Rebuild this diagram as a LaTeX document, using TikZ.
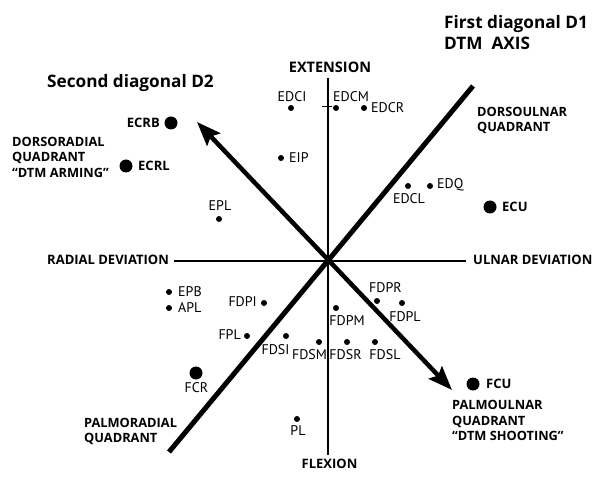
\documentclass[tikz,border=0pt]{standalone}
\usepackage{fontspec}
\setmainfont{Open Sans}
\newfontfamily\lblfont{PT Sans}
\usetikzlibrary{arrows.meta}
\begin{document}
\begin{tikzpicture}[x=1pt,y=-1pt,
 dot/.style={circle,fill=black,inner sep=0pt,minimum size=6pt},
 bigdot/.style={circle,fill=black,inner sep=0pt,minimum size=13pt},
 lbl/.style={inner sep=0pt,font=\lblfont\fontsize{14}{16}\selectfont},
 blbl/.style={inner sep=0pt,font=\fontsize{13}{15}\selectfont\bfseries},
 ttl/.style={inner sep=0pt,align=left,font=\fontsize{17.2}{21}\selectfont\bfseries},
 quad/.style={inner sep=0pt,align=left,font=\fontsize{12.8}{15.5}\selectfont\bfseries},
 axisline/.style={line width=1.5pt},
 diag/.style={line width=5pt}]
\useasboundingbox[fill=white] (0,0) rectangle (600,481);
% axes
\coordinate (ax-l) at (174,261);
\coordinate (ax-r) at (466,261);
\coordinate (ax-t) at (328,78);
\coordinate (ax-b) at (328,455);
\draw[axisline] (ax-l) -- (ax-r);
\draw[axisline] (ax-t) -- (ax-b);
\coordinate (tick-l) at (322,106);
\coordinate (tick-r) at (332,106);
\draw[line width=0.8pt] (tick-l) -- (tick-r);
% diagonals
\coordinate (d1a) at (169,452);
\coordinate (d1b) at (473,86);
\draw[diag] (d1a) -- (d1b);
\coordinate (d2a) at (452,390);
\coordinate (d2b) at (197,122);
\draw[line width=4.5pt,{Stealth[length=24pt,width=18pt,inset=4pt]}-{Stealth[length=24pt,width=18pt,inset=4pt]}] (d2a) -- (d2b);
% axis labels
\node[blbl,anchor=center,font=\fontsize{14.5}{15}\selectfont\bfseries] (ext) at (330,67) {EXTENSION};
\node[blbl,anchor=center] (flex) at (329.5,464) {FLEXION};
\node[blbl,anchor=west] (rad) at (47,260) {RADIAL DEVIATION};
\node[blbl,anchor=west] (uln) at (473,260) {ULNAR DEVIATION};
% titles
\node[ttl,anchor=west] (t2) at (47,83) {Second diagonal D2};
\node[ttl,anchor=west] (t1) at (444,32.5) {First diagonal D1\\DTM\ \ AXIS};
% quadrants
\node[quad,anchor=west] (qdr) at (12,157) {DORSORADIAL\\QUADRANT\\“DTM ARMING”};
\node[quad,anchor=west] (qdu) at (477,120.5) {DORSOULNAR\\QUADRANT};
\node[quad,anchor=west] (qpr) at (84,431.5) {PALMORADIAL\\QUADRANT};
\node[quad,anchor=west] (qpu) at (452,420.5) {PALMOULNAR\\QUADRANT\\“DTM SHOOTING”};
% dorsal muscles
\node[dot] (edci) at (291,108) {};
\node[lbl] (edci-l) at (292,97) {EDCI};
\node[dot] (edcm) at (336,108) {};
\node[lbl,anchor=west] (edcm-l) at (333,97) {EDCM};
\node[dot] (edcr) at (364,108) {};
\node[lbl,anchor=west] (edcr-l) at (371,108) {EDCR};
\node[dot] (eip) at (281,158) {};
\node[lbl,anchor=west] (eip-l) at (289,158) {EIP};
\node[dot] (edcl) at (408,186) {};
\node[lbl] (edcl-l) at (409,199) {EDCL};
\node[dot] (edq) at (430,186) {};
\node[lbl,anchor=west] (edq-l) at (437,185) {EDQ};
\node[bigdot] (ecu) at (490,207) {};
\node[blbl,anchor=west] (ecu-l) at (502,207) {ECU};
\node[bigdot] (ecrb) at (171,123) {};
\node[blbl,anchor=east] (ecrb-l) at (160,123) {ECRB};
\node[bigdot] (ecrl) at (126,166) {};
\node[blbl,anchor=west] (ecrl-l) at (138,166) {ECRL};
\node[dot] (epl) at (219,219) {};
\node[lbl] (epl-l) at (220,206) {EPL};
% palmar muscles
\node[dot] (epb) at (169,292) {};
\node[lbl,anchor=west] (epb-l) at (178,292) {EPB};
\node[dot] (apl) at (169,308) {};
\node[lbl,anchor=west] (apl-l) at (178,308) {APL};
\node[dot] (fdpi) at (264,303) {};
\node[lbl,anchor=east] (fdpi-l) at (257,302) {FDPI};
\node[dot] (fpl) at (247,336) {};
\node[lbl,anchor=east] (fpl-l) at (241,335) {FPL};
\node[dot] (fdsi) at (286,336) {};
\node[lbl] (fdsi-l) at (275.5,350) {FDSI};
\node[dot] (fdsm) at (319,342) {};
\node[lbl] (fdsm-l) at (309.5,355) {FDSM};
\node[dot] (fdsr) at (347,342) {};
\node[lbl] (fdsr-l) at (345.5,355) {FDSR};
\node[dot] (fdsl) at (375,342) {};
\node[lbl] (fdsl-l) at (385,355) {FDSL};
\node[dot] (fdpm) at (336,308) {};
\node[lbl] (fdpm-l) at (347,321) {FDPM};
\node[dot] (fdpr) at (377,301) {};
\node[lbl] (fdpr-l) at (385.5,288) {FDPR};
\node[dot] (fdpl) at (402,303) {};
\node[lbl] (fdpl-l) at (405,317) {FDPL};
\node[bigdot] (fcr) at (196,373) {};
\node[lbl] (fcr-l) at (196.5,388) {FCR};
\node[dot] (pl) at (297,419) {};
\node[lbl] (pl-l) at (298,431) {PL};
\node[bigdot] (fcu) at (473,384) {};
\node[blbl,anchor=west] (fcu-l) at (486,384) {FCU};
\end{tikzpicture}
\end{document}
